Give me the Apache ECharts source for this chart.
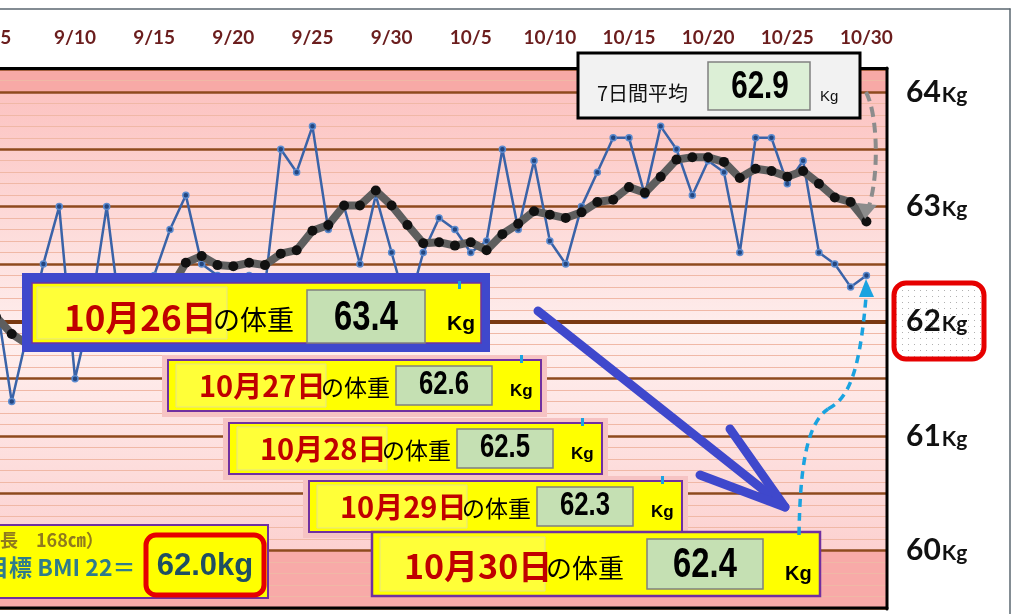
<!DOCTYPE html>
<html><head><meta charset="utf-8">
<script src="https://cdn.jsdelivr.net/npm/echarts@6/dist/echarts.min.js"></script>
<style>html,body{margin:0;padding:0;background:#fff;overflow:hidden}#c{width:1024px;height:614px}</style>
</head><body><div id="c"></div>
<script>
// ---------- data ----------
const dates = ['9/5','9/6','9/7','9/8','9/9','9/10','9/11','9/12','9/13','9/14','9/15','9/16','9/17','9/18','9/19','9/20','9/21','9/22','9/23','9/24','9/25','9/26','9/27','9/28','9/29','9/30',
  '10/1','10/2','10/3','10/4','10/5','10/6','10/7','10/8','10/9','10/10','10/11','10/12','10/13','10/14','10/15','10/16','10/17','10/18','10/19','10/20','10/21','10/22','10/23','10/24','10/25','10/26','10/27','10/28','10/29','10/30'];
const dailyWeight = [62.2,61.3,61.9,62.5,63.0,61.5,62.1,63.0,61.9,62.2,62.4,62.8,63.1,62.5,62.4,61.8,62.4,62.3,63.5,63.3,63.7,62.8,63.0,62.5,63.1,62.6,
  62.1,62.6,62.9,62.8,62.6,62.7,63.5,62.8,63.4,62.7,62.5,63.0,63.3,63.6,63.6,63.1,63.7,63.5,63.1,63.4,63.3,62.6,63.6,63.6,63.2,63.4,62.6,62.5,62.3,62.4];
const avg7 = [62.04,61.89,61.80,61.90,62.00,62.00,62.07,62.19,62.28,62.32,62.31,62.28,62.51,62.57,62.49,62.48,62.51,62.49,62.59,62.62,62.79,62.84,63.01,63.01,63.14,63.01,
  62.84,62.68,62.69,62.66,62.69,62.62,62.76,62.85,62.96,62.93,62.90,62.95,63.04,63.06,63.17,63.12,63.26,63.41,63.43,63.43,63.39,63.25,63.33,63.31,63.26,63.31,63.20,63.08,63.04,62.87];
const reportDates = ['10月26日','10月27日','10月28日','10月29日','10月30日'];
const reportWeights = ['63.4','62.6','62.5','62.3','62.4'];
const avgLabel = '7日間平均';
const avgValue = '62.9';
const heightText = '（身長　168㎝）';
const bmiText = '目標 BMI 22＝';
const bmiTarget = '62.0kg';
const targetWeight = 62;
const bandLimits = [59.5, 60, 62, 64, 64.2];

// ---------- helpers ----------
const JP = '"Noto Sans CJK JP"';
let zc = 100;
function rect(x,y,w,h,fill,stroke,lw,r){return {type:'rect',z:zc++,shape:{x,y,width:w,height:h,r:r||0},style:{fill:fill||'none',stroke:stroke||null,lineWidth:lw||0}};}
function txt(t,x,y,font,fill,align){return {type:'text',z:zc++,x,y,style:{text:t,x:0,y:0,font,fill:fill||'#000',textAlign:align||'left',textVerticalAlign:'middle'}};}
function num(t,cx,cy,size){return {type:'text',z:zc++,x:cx,y:cy,scaleX:0.78,style:{text:t,x:0,y:0,font:'bold '+size+'px "Liberation Sans"',fill:'#000',textAlign:'center',textVerticalAlign:'middle'}};}
function line(x1,y1,x2,y2,stroke,lw,dash){return {type:'line',z:zc++,shape:{x1,y1,x2,y2},style:{stroke,lineWidth:lw,lineDash:dash||null,lineCap:'round'}};}

const G = [];
// outer frame & plot border
G.push(line(0,9,1010,9,'#5b6770',1.5), line(1010,9,1010,614,'#5b6770',1.5));
G.push(line(0,68.5,887,68.5,'#000',3), line(887,68,887,609,'#000',3), line(0,608,887,608,'#000',3));

// 7-day average box
G.push(rect(578,53,282,65,'#f2f2f2','#000',3));
G.push(txt(avgLabel,597,93,'20px '+JP,'#111'));
G.push(rect(708,62,102,48,'#dcefd6','#808080',1.5));
G.push(num(avgValue,760,88,38));
G.push(txt('Kg',820,97,'15px "Liberation Sans"','#111'));

// gray dashed arrow
G.push({type:'bezierCurve',z:zc++,shape:{x1:866,y1:92,cpx1:878,cpy1:115,cpx2:879,cpy2:175,x2:869,y2:206},style:{stroke:'#8c8c8c',lineWidth:4,lineDash:[10,6],fill:'none'}});
G.push({type:'polygon',z:zc++,shape:{points:[[865,219],[857,203],[877,205]]},style:{fill:'#8c8c8c'}});

// BMI box
G.push(rect(-6,525,274,73,'#ffff00','#7030a0',2));
G.push(txt(heightText,-36,540,'bold 18px '+JP,'#8f7a1e'));
G.push(txt(bmiText,-14,567,'bold 23px '+JP,'#2f7b8c'));
G.push(rect(146,535,118,60,'#ffff00','#e60000',5,10));
G.push(txt(bmiTarget,205,566,'bold 31px "Liberation Sans"','#1f4f63','center'));

// big box (10/26)
G.push(rect(22,273,468,79,'#3f48cc'));
G.push(rect(32,283,449,60,'#ffff00','#7030a0',1.5));
G.push(rect(37,287,190,52,'#ffff38','#e3e38a',1));
G.push(txt(reportDates[0],64,318,'bold 35px '+JP,'#c00000'));
G.push(txt('の体重',213,320,'27px '+JP,'#000'));
G.push(rect(307,290,118,53,'#c5e0b3','#808080',1.5));
G.push(num(reportWeights[0],366,318,42));
G.push(txt('Kg',447,324,'bold 21px "Liberation Sans"','#000'));
G.push(rect(458,281,3,8,'#1aa3e0'));

// small boxes
[[168,360],[229,423],[309,481]].forEach((p,i)=>{
  const L=p[0],T=p[1];
  G.push(rect(L-6,T-5,385,62,'#f6c3c3'));
  G.push(rect(L,T,373,51,'#ffff00','#7030a0',2));
  G.push(rect(L+8,T+4,150,43,'#ffff38','#e3e38a',1));
  G.push(txt(reportDates[i+1],L+31,T+26,'bold 29px '+JP,'#c00000'));
  G.push(txt('の体重',L+153,T+27,'23px '+JP,'#000'));
  G.push(rect(L+228,T+6,96,39,'#c5e0b3','#808080',1.5));
  G.push(num(reportWeights[i+1],L+276,T+25,33));
  G.push(txt('Kg',L+342,T+31,'bold 17px "Liberation Sans"','#000'));
  G.push(rect(L+352,T-5,3,8,'#1aa3e0'));
});

// box 10/30
G.push(rect(372,532,448,64,'#ffff00','#7030a0',2.5));
G.push(rect(380,537,165,54,'#ffff38','#e3e38a',1));
G.push(txt(reportDates[4],404,566,'bold 34px '+JP,'#c00000'));
G.push(txt('の体重',546,568,'26px '+JP,'#000'));
G.push(rect(647,539,116,50,'#c5e0b3','#808080',1.5));
G.push(num(reportWeights[4],705,565,42));
G.push(txt('Kg',785,574,'bold 20px "Liberation Sans"','#000'));

// big blue arrow
G.push(line(538,311,785,507,'#3f48cc',9));
G.push({type:'polyline',z:zc++,shape:{points:[[730,429],[785,507],[700,475]]},style:{stroke:'#3f48cc',lineWidth:9,lineCap:'round',lineJoin:'round',fill:'none'}});

// cyan dashed arrow
G.push({type:'bezierCurve',z:zc++,shape:{x1:799,y1:535,cpx1:800,cpy1:470,cpx2:806,cpy2:424,x2:828,y2:409},style:{stroke:'#1aa3e0',lineWidth:3.5,lineDash:[8,6],fill:'none'}});
G.push({type:'bezierCurve',z:zc++,shape:{x1:828,y1:409,cpx1:850,cpy1:398,cpx2:860,cpy2:368,x2:866,y2:297},style:{stroke:'#1aa3e0',lineWidth:3.5,lineDash:[8,6],fill:'none'}});
G.push({type:'polygon',z:zc++,shape:{points:[[866,279],[859,297],[874,297]]},style:{fill:'#1aa3e0'}});

// red box behind 62Kg label (below the axis label)
const pc = document.createElement('canvas'); pc.width=6; pc.height=6;
const g2 = pc.getContext('2d'); g2.fillStyle='#ffffff'; g2.fillRect(0,0,6,6); g2.fillStyle='#b0b0b0'; g2.fillRect(2,2,1,1);
G.push({type:'rect',z:-5,shape:{x:894,y:283,width:90,height:76,r:12},style:{fill:{image:pc,repeat:'repeat'},stroke:'#e60000',lineWidth:5}});

// ---------- chart ----------
const chart = echarts.init(document.getElementById('c'), null, {renderer:'canvas'});
const isInt = v => Math.abs(v - Math.round(v)) < 1e-6;
const grad = (a,b)=>({type:'linear',x:0,y:0,x2:0,y2:1,colorStops:[{offset:0,color:a},{offset:1,color:b}]});

chart.setOption({
  animation:false,
  backgroundColor:'#ffffff',
  grid:{left:-4.1,right:137,top:69,bottom:6,show:false,containLabel:false,outerBoundsMode:'none'},
  xAxis:{type:'value',position:'top',min:0,max:56.3,interval:5,
    axisLine:{show:false},axisTick:{show:false},splitLine:{show:false},
    axisLabel:{margin:22,color:'#6b1d1d',fontWeight:'bold',fontSize:19,fontFamily:'Lato',
      formatter:v=>isInt(v)&&dates[Math.round(v)]!==undefined?dates[Math.round(v)]:''}},
  yAxis:[
    {type:'value',position:'right',min:bandLimits[0],max:bandLimits[4],interval:0.5,z:3,
      axisLine:{show:false},axisTick:{show:false},
      splitLine:{show:true,lineStyle:{color:'#8e4a1e',width:2.5}},
      axisLabel:{margin:19,formatter:v=>isInt(v)?'{n|'+Math.round(v)+'}{u|Kg}':'',
        rich:{n:{fontSize:30,fontWeight:'bold',fontFamily:'Lato',color:'#111'},
              u:{fontSize:21,fontWeight:'bold',fontFamily:'Lato',color:'#111',padding:[6,0,0,1]}}}},
    {type:'value',position:'right',min:bandLimits[0],max:bandLimits[4],interval:0.1,z:2,
      axisLine:{show:false},axisTick:{show:false},axisLabel:{show:false},
      splitLine:{show:true,lineStyle:{color:'#f0b8a6',width:1}}}
  ],
  series:[
    {type:'line',z:0,data:[],silent:true,
      markArea:{silent:true,z:0,data:[
        [{yAxis:bandLimits[3],itemStyle:{color:'#f7a9a6'}},{yAxis:bandLimits[4]}],
        [{yAxis:bandLimits[2],itemStyle:{color:grad('#fcc3c1','#feeceb')}},{yAxis:bandLimits[3]}],
        [{yAxis:bandLimits[1],itemStyle:{color:grad('#fff2f1','#fcd1d0')}},{yAxis:bandLimits[2]}],
        [{yAxis:bandLimits[0],itemStyle:{color:'#f8aaa8'}},{yAxis:bandLimits[1]}]
      ]},
      markLine:{silent:true,z:4,symbol:'none',label:{show:false},lineStyle:{color:'#7a3a12',width:4,type:'solid'},data:[{yAxis:targetWeight}]}
    },
    {name:'体重',type:'line',z:5,data:dailyWeight.map((v,i)=>[i,v]),
      lineStyle:{color:'#3a63a8',width:2.5},symbol:'circle',symbolSize:6,
      itemStyle:{color:'#24467f',borderColor:'#5b8bd0',borderWidth:1.5}},
    {name:'7日間平均',type:'line',z:6,data:avg7.map((v,i)=>[i,v]),
      lineStyle:{color:'#5e5e5e',width:8},symbol:'circle',symbolSize:10,
      itemStyle:{color:'#111111'}}
  ],
  graphic:{elements:G}
});
</script>
</body></html>
